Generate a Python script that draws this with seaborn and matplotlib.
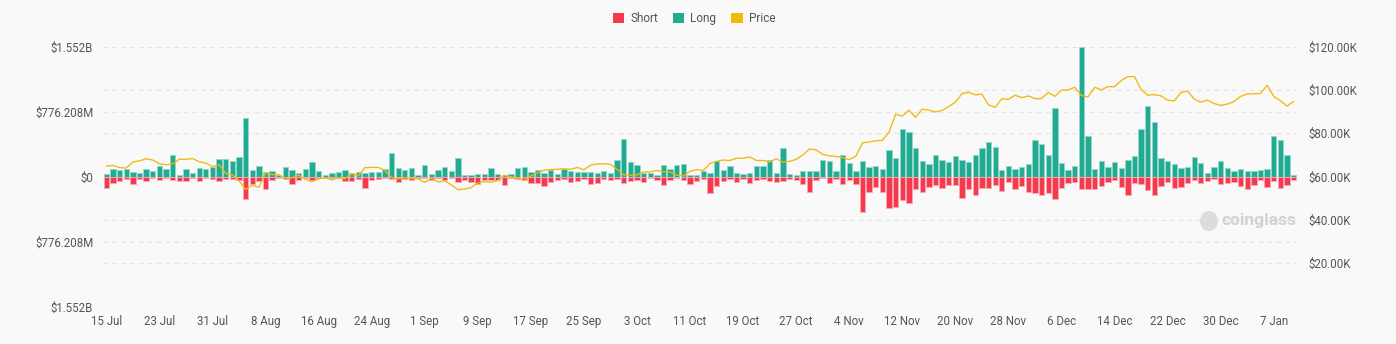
import numpy as np
import pandas as pd
import matplotlib
matplotlib.use("Agg")
import matplotlib.pyplot as plt
import matplotlib.transforms as mtransforms
from matplotlib.patches import Patch, Ellipse
import seaborn as sns

# ---- data -------------------------------------------------------------
start_date = "2024-07-15"
n_days = 180

# long liquidations, $M per day
long_liq = [
    24, 95, 79, 95, 55, 36, 91, 71, 126, 95, 253, 16, 95, 36, 107, 95, 111, 213, 213, 190,
    229, 695, 83, 126, 55, 71, 16, 119, 83, 43, 91, 178, 71, 12, 47, 55, 75, 47, 55, 36,
    55, 55, 95, 280, 99, 79, 103, 16, 138, 32, 79, 119, 71, 221, 20, 20, 32, 28, 103, 32,
    16, 32, 103, 115, 55, 75, 43, 75, 24, 87, 63, 59, 59, 59, 40, 71, 47, 198, 446, 178,
    142, 47, 40, 20, 138, 87, 138, 150, 20, 20, 71, 36, 182, 75, 122, 40, 24, 40, 122, 126,
    198, 43, 340, 28, 20, 71, 67, 71, 194, 186, 71, 257, 162, 71, 186, 119, 126, 91, 316, 221,
    573, 537, 340, 186, 146, 257, 198, 178, 241, 198, 178, 257, 344, 411, 352, 83, 130, 95, 119, 154,
    431, 383, 253, 814, 166, 83, 130, 1552.416, 478, 95, 186, 115, 174, 103, 198, 249, 573, 837, 652, 221,
    186, 150, 103, 111, 233, 158, 47, 119, 182, 107, 63, 87, 71, 71, 79, 91, 482, 438, 261, 12,
]

# short liquidations, $M per day
short_liq = [
    138, 75, 51, 28, 87, 32, 51, 20, 36, 20, 43, 59, 51, 12, 51, 20, 28, 51, 28, 28,
    36, 265, 87, 59, 154, 36, 20, 28, 87, 43, 20, 43, 20, 20, 20, 20, 55, 55, 28, 134,
    47, 28, 12, 28, 63, 28, 40, 12, 16, 40, 12, 36, 20, 63, 47, 67, 91, 40, 36, 40,
    99, 12, 28, 40, 75, 75, 115, 67, 40, 28, 71, 55, 28, 91, 79, 28, 43, 28, 79, 55,
    43, 71, 20, 43, 103, 43, 20, 40, 91, 51, 28, 201, 119, 51, 28, 67, 28, 75, 40, 28,
    51, 63, 55, 28, 40, 91, 186, 36, 20, 79, 28, 87, 43, 95, 423, 182, 130, 186, 371, 363,
    280, 312, 146, 186, 130, 107, 134, 107, 99, 253, 146, 225, 138, 134, 107, 178, 71, 146, 111, 182,
    201, 217, 201, 273, 134, 79, 67, 150, 150, 150, 119, 71, 47, 122, 221, 79, 91, 162, 217, 111,
    67, 138, 130, 83, 43, 75, 55, 24, 91, 79, 63, 119, 146, 99, 43, 126, 51, 134, 103, 36,
]

# BTC price, $K (daily close)
price_k = [
    64.8, 65.1, 64.1, 63.9, 66.7, 67.2, 68.2, 67.6, 65.9, 65.4, 65.8, 68.0, 67.9, 68.3, 66.8, 66.2, 64.6, 65.4, 61.5, 60.7,
    58.1, 54.0, 56.0, 55.0, 61.7, 60.9, 60.9, 58.7, 59.4, 60.6, 58.7, 57.6, 58.9, 59.5, 58.4, 59.5, 59.0, 61.2, 60.4, 64.1,
    64.2, 64.2, 62.8, 59.4, 59.0, 59.4, 59.1, 58.9, 57.3, 59.1, 57.5, 58.0, 56.2, 53.9, 54.2, 54.9, 57.0, 57.6, 57.3, 58.1,
    60.5, 59.9, 59.1, 58.2, 60.3, 61.7, 62.9, 63.2, 63.3, 63.6, 63.3, 64.2, 63.1, 65.2, 65.8, 65.9, 65.6, 63.3, 60.8, 60.6,
    60.8, 62.1, 62.1, 62.8, 62.2, 62.1, 60.6, 60.3, 62.4, 63.2, 62.8, 66.0, 67.0, 67.6, 67.4, 68.4, 68.4, 69.0, 67.4, 67.4,
    66.7, 68.2, 66.6, 67.0, 67.9, 69.9, 72.7, 72.3, 70.2, 69.5, 69.3, 68.7, 67.8, 69.4, 75.6, 75.9, 76.5, 76.7, 80.5, 88.7,
    87.9, 90.6, 87.3, 91.1, 90.6, 89.8, 90.5, 92.3, 94.3, 98.3, 98.9, 97.7, 98.0, 93.0, 91.9, 95.9, 95.6, 97.5, 96.4, 97.2,
    95.9, 96.0, 98.8, 97.0, 99.9, 99.9, 101.2, 97.4, 96.7, 101.2, 100.0, 101.5, 101.4, 104.3, 106.1, 106.1, 100.2, 97.5, 97.8, 97.2,
    95.2, 94.9, 98.7, 99.4, 95.8, 94.3, 95.3, 93.7, 92.8, 93.4, 94.6, 97.0, 98.1, 98.2, 98.3, 102.1, 96.9, 95.0, 92.5, 94.7,
]

liq_ticks = [-1552.416, -776.208, 0, 776.208, 1552.416]
liq_tick_labels = ["$1.552B", "$776.208M", "$0", "$776.208M", "$1.552B"]
price_ticks = [0, 20, 40, 60, 80, 100, 120]
price_tick_labels = ["", "$20.00K", "$40.00K", "$60.00K", "$80.00K", "$100.00K", "$120.00K"]
label_every = 8

# ---- style ------------------------------------------------------------
BG = "#f9f9f9"
SHORT = "#f6394d"
LONG = "#21ab92"
PRICE = "#f0b90b"
SHORT_EDGE = "#f9a8b1"
LONG_EDGE = "#95d8cb"
GRID = "#e4e4e4"
TXT = "#555555"

sns.set_theme(style="white", rc={"axes.facecolor": BG, "figure.facecolor": BG})
plt.rcParams["font.family"] = ["Roboto", "DejaVu Sans"]

dates = pd.date_range(start_date, periods=n_days, freq="D")
df = pd.DataFrame({
    "day": np.arange(n_days),
    "long": long_liq,
    "short": -np.asarray(short_liq, dtype=float),
    "price": price_k,
})

W, H = 1396, 344
fig = plt.figure(figsize=(W / 100, H / 100), dpi=100)
ax = fig.add_axes([103 / W, 1 - 306.5 / H, 1194 / W, 260 / H])

sns.barplot(data=df, x="day", y="long", color=LONG, saturation=1, width=0.8,
            edgecolor=LONG_EDGE, linewidth=0.7, errorbar=None, ax=ax, zorder=2)
sns.barplot(data=df, x="day", y="short", color=SHORT, saturation=1, width=0.8,
            edgecolor=SHORT_EDGE, linewidth=0.7, errorbar=None, ax=ax, zorder=2)

ax.set_xlim(-0.5, n_days - 0.5)
ax.set_ylim(liq_ticks[0], liq_ticks[-1])

ax2 = ax.twinx()
sns.lineplot(data=df, x="day", y="price", color=PRICE, linewidth=0.95, ax=ax2)
ax2.set_ylim(price_ticks[0], price_ticks[-1])

# dashed grid for both scales, kept beneath the bars
ax.set_axisbelow(True)
ax.yaxis.grid(True, color=GRID, linestyle=(0, (4, 4)), linewidth=0.8)
ax.xaxis.grid(False)
blend = mtransforms.blended_transform_factory(ax.transAxes, ax2.transData)
for t in price_ticks:
    ax.plot([0, 1], [t, t], transform=blend, color=GRID, linestyle=(0, (4, 4)),
            linewidth=0.8, zorder=0.5)
ax2.grid(False)

tick_pos = list(range(0, n_days, label_every))
tick_lbl = [f"{dates[i].day} {dates[i].strftime('%b')}" for i in tick_pos]
ax.set_xticks(tick_pos, tick_lbl)
ax.set_yticks(liq_ticks, liq_tick_labels)
ax2.set_yticks(price_ticks, price_tick_labels)

ax.tick_params(axis="x", length=0, pad=6, labelsize=8.3, labelcolor=TXT)
ax.tick_params(axis="y", length=0, pad=7, labelsize=8.3, labelcolor=TXT)
ax2.tick_params(axis="y", length=0, pad=8, labelsize=8.3, labelcolor=TXT)
ax.set_xlabel("")
ax.set_ylabel("")
ax2.set_xlabel("")
ax2.set_ylabel("")
for a in (ax, ax2):
    for s in a.spines.values():
        s.set_visible(False)

handles = [Patch(facecolor=SHORT, edgecolor="none", label="Short"),
           Patch(facecolor=LONG, edgecolor="none", label="Long"),
           Patch(facecolor=PRICE, edgecolor="none", label="Price")]
fig.legend(handles=handles, loc="center", bbox_to_anchor=(694 / W, 1 - 18.5 / H), ncol=3,
           frameon=False, fontsize=8.5, handlelength=0.95, handleheight=0.95,
           handletextpad=0.5, columnspacing=1.3, labelcolor=TXT)

# watermark
fig.patches.append(Ellipse((1209 / W, 1 - 221 / H), 18 / W, 20 / H, transform=fig.transFigure,
                           facecolor="#dcdcdc", edgecolor="none"))
fig.text(1221 / W, 1 - 221 / H, "coinglass", color="#d2d2d2", fontsize=12.5,
         fontweight="bold", va="center", ha="left")

fig.savefig("out.png", dpi=100, facecolor=BG)
